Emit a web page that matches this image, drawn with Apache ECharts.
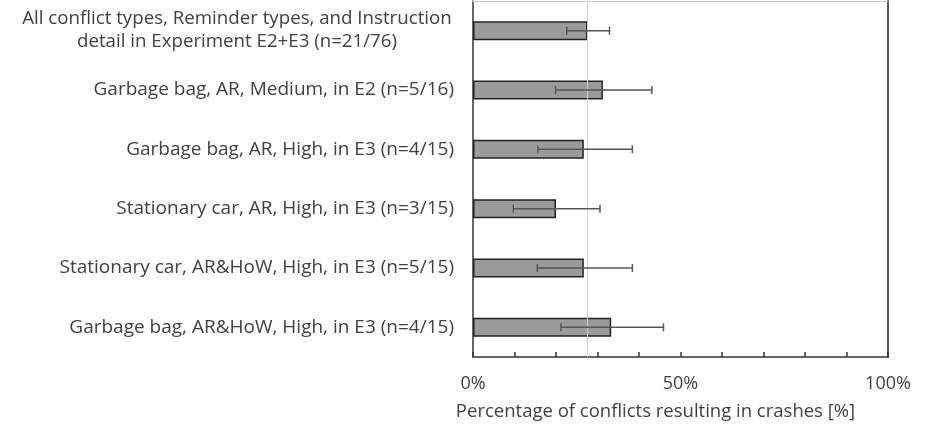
<!DOCTYPE html>
<html>
<head>
<meta charset="utf-8">
<script src="https://cdn.jsdelivr.net/npm/echarts@6/dist/echarts.min.js"></script>
<style>
  html, body { margin: 0; padding: 0; background: #fff; }
  #main { width: 931px; height: 428px; }
</style>
</head>
<body>
<div id="main"></div>
<script>
// 分类 (top to bottom)
var categories = [
  'All conflict types, Reminder types, and Instruction\ndetail in Experiment E2+E3 (n=21/76)',
  'Garbage bag, AR, Medium, in E2 (n=5/16)',
  'Garbage bag, AR, High, in E3 (n=4/15)',
  'Stationary car, AR, High, in E3 (n=3/15)',
  'Stationary car, AR&HoW, High, in E3 (n=5/15)',
  'Garbage bag, AR&HoW, High, in E3 (n=4/15)'
]
// crash percentage
var values = [27.6, 31.3, 26.7, 20.0, 26.7, 33.3]
// error bar ends
var errLow = [22.6, 19.9, 15.6, 9.7, 15.5, 21.2]
var errHigh = [32.9, 43.1, 38.4, 30.6, 38.4, 45.9]
// overall reference line
var refValue = 27.6
var tickLabels = [0, 50, 100]

var textColor = '#404040'
var font = 'Open Sans'

var errData = categories.map(function (c, i) {
  return [i, errLow[i], errHigh[i]]
})

var myChart = echarts.init(document.getElementById('main'))
var option = {
  animation: false,
  grid: { left: 473, right: 43, top: 1, bottom: 71 },
  xAxis: [
    {
      type: 'value',
      min: 0,
      max: 100,
      interval: 10,
      position: 'bottom',
      axisLine: { show: true, lineStyle: { color: '#333', width: 1.5 } },
      axisTick: { show: true, inside: true, length: 5, lineStyle: { color: '#333', width: 1.5 } },
      splitLine: { show: false },
      axisLabel: {
        color: textColor,
        fontFamily: font,
        fontSize: 18,
        margin: 18,
        formatter: function (v) {
          return tickLabels.indexOf(v) >= 0 ? v + '%' : ''
        }
      },
      name: 'Percentage of conflicts resulting in crashes [%]',
      nameLocation: 'middle',
      nameGap: 45,
      nameTextStyle: { color: textColor, fontFamily: font, fontSize: 18.5, padding: [0, 50, 0, 0] }
    },
    {
      type: 'value',
      min: 0,
      max: 100,
      position: 'top',
      axisLine: { show: true, lineStyle: { color: '#c8c8c8', width: 1 } },
      axisTick: { show: false },
      axisLabel: { show: false },
      splitLine: { show: false }
    }
  ],
  yAxis: [
    {
      type: 'category',
      data: categories,
      inverse: true,
      axisLine: { show: true, lineStyle: { color: '#333', width: 1.5 } },
      axisTick: { show: false },
      axisLabel: {
        color: textColor,
        fontFamily: font,
        fontSize: 19,
        margin: 19,
        lineHeight: 23,
        formatter: function (v, i) {
          if (i === 0) {
            return v.split('\n').map(function (s) { return '{c|' + s + '}' }).join('\n')
          }
          return v
        },
        rich: {
          c: { width: 434, align: 'center', color: textColor, fontFamily: font, fontSize: 18.7, lineHeight: 23 }
        }
      }
    },
    {
      type: 'value',
      position: 'right',
      axisLine: { show: true, onZero: false, lineStyle: { color: '#555', width: 2 } },
      axisTick: { show: false },
      axisLabel: { show: false },
      splitLine: { show: false }
    }
  ],
  series: [
    {
      name: 'crashes',
      type: 'bar',
      data: values,
      barWidth: 19,
      itemStyle: { color: '#9a9a9a', borderColor: '#222', borderWidth: 1.5 },
      markLine: {
        silent: true,
        symbol: 'none',
        label: { show: false },
        lineStyle: { color: '#cfcfcf', width: 1, type: 'solid' },
        data: [{ xAxis: refValue }]
      }
    },
    {
      name: 'error',
      type: 'custom',
      z: 5,
      data: errData,
      encode: { x: [1, 2], y: 0 },
      renderItem: function (params, api) {
        var idx = api.value(0)
        var lo = api.coord([api.value(1), idx])
        var hi = api.coord([api.value(2), idx])
        var cap = 4
        var st = { stroke: '#555', lineWidth: 1.5 }
        return {
          type: 'group',
          children: [
            { type: 'line', shape: { x1: lo[0], y1: lo[1], x2: hi[0], y2: hi[1] }, style: st },
            { type: 'line', shape: { x1: lo[0], y1: lo[1] - cap, x2: lo[0], y2: lo[1] + cap }, style: st },
            { type: 'line', shape: { x1: hi[0], y1: hi[1] - cap, x2: hi[0], y2: hi[1] + cap }, style: st }
          ]
        }
      }
    }
  ]
}
myChart.setOption(option) // 绘制
</script>
</body>
</html>
